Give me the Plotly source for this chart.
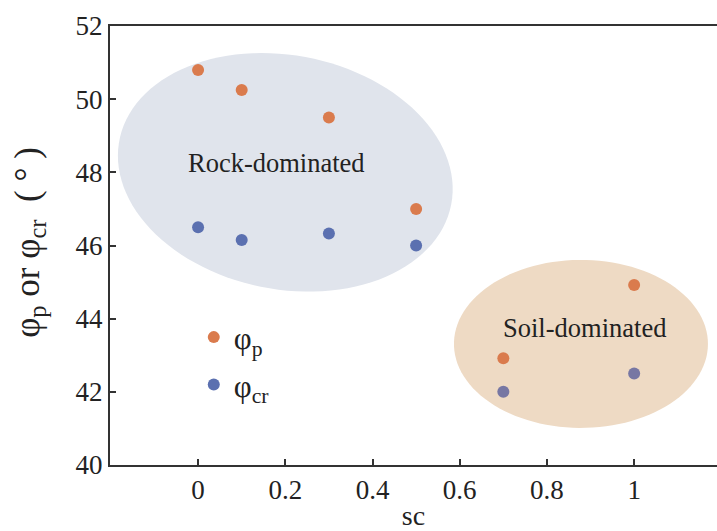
import numpy as np
import plotly.graph_objects as go

# Data
sc = [0, 0.1, 0.3, 0.5, 0.7, 1.0]
phi_p = [50.80, 50.25, 49.50, 47.00, 42.92, 44.92]
phi_cr = [46.50, 46.15, 46.33, 46.00, 42.00, 42.50]
x_ticks = [0, 0.2, 0.4, 0.6, 0.8, 1.0]
x_ticklabels = ["0", "0.2", "0.4", "0.6", "0.8", "1"]
y_ticks = [40, 42, 44, 46, 48, 50, 52]

orange = "#DA7B4D"
blue = "#5B70B0"
blue_soil = "#7777A3"
cr_colors = [blue, blue, blue, blue, blue_soil, blue_soil]

W, H = 717, 531
ml, mr, mt, mb = 110, 0, 26, 66
xr = [-0.202, 1.19]
yr = [40, 52]
pw, ph = W - ml - mr, H - mt - mb
sx = pw / (xr[1] - xr[0])  # px per data unit
sy = ph / (yr[1] - yr[0])

FONT = "Liberation Serif, Times New Roman, serif"

def ellipse_path(cx, cy, a_px, b_px, theta_deg, n=120):
    th = np.deg2rad(theta_deg)
    t = np.linspace(0, 2 * np.pi, n)
    dx = a_px * np.cos(t) * np.cos(th) - b_px * np.sin(t) * np.sin(th)
    dy = a_px * np.cos(t) * np.sin(th) + b_px * np.sin(t) * np.cos(th)
    xs = cx + dx / sx
    ys = cy - dy / sy
    p = "M %.5f,%.5f " % (xs[0], ys[0])
    p += " ".join("L %.5f,%.5f" % (x, y) for x, y in zip(xs[1:], ys[1:]))
    return p + " Z"

fig = go.Figure()
fig.add_trace(go.Scatter(x=sc, y=phi_p, mode="markers", name="φ<sub>p</sub>",
                         marker=dict(color=orange, size=12), legendgroup="a"))
fig.add_trace(go.Scatter(x=sc, y=phi_cr, mode="markers", name="φ<sub>cr</sub>",
                         marker=dict(color=cr_colors, size=12), legendgroup="b"))

fig.add_shape(type="path", path=ellipse_path(0.2, 48.0, 169, 117, 11),
              fillcolor="#E0E4EC", line=dict(width=0), layer="below")
fig.add_shape(type="path", path=ellipse_path(0.878, 43.31, 127, 84, 0),
              fillcolor="#EEDAC4", line=dict(width=0), layer="below")

fig.add_annotation(x=0.179, y=48.25, text="Rock-dominated", showarrow=False,
                   font=dict(size=26.5, color="#222", family=FONT))
fig.add_annotation(x=0.885, y=43.74, text="Soil-dominated", showarrow=False,
                   font=dict(size=26.5, color="#222", family=FONT))

# y-axis title as rotated annotation
fig.add_annotation(xref="paper", yref="paper", x=-0.132, y=0.508,
                   xanchor="center", yanchor="middle", textangle=-90,
                   text="φ<sub>p</sub> or φ<sub>cr</sub>  ( ° )", showarrow=False,
                   font=dict(size=35, color="#222", family=FONT))

fig.update_layout(
    width=W, height=H,
    margin=dict(l=ml, r=mr, t=mt, b=mb),
    paper_bgcolor="white", plot_bgcolor="white",
    font=dict(family=FONT, color="#222"),
    showlegend=True,
    legend=dict(x=0.138, y=0.352, xanchor="left", yanchor="top",
                font=dict(size=31, family=FONT), tracegroupgap=4,
                bgcolor="rgba(0,0,0,0)", itemwidth=30),
    xaxis=dict(range=xr, tickvals=x_ticks, ticktext=x_ticklabels,
               ticks="inside", ticklen=6, tickcolor="#333", tickwidth=1.5,
               showline=True, linecolor="#333", linewidth=2, mirror=True,
               showgrid=False, zeroline=False, tickfont=dict(size=27),
               title=dict(text="sc", font=dict(size=28), standoff=2)),
    yaxis=dict(range=yr, tickvals=y_ticks,
               ticks="inside", ticklen=6, tickcolor="#333", tickwidth=1.5,
               showline=True, linecolor="#333", linewidth=2,
               showgrid=False, zeroline=False, tickfont=dict(size=27)),
)

fig.write_html("out.html")
